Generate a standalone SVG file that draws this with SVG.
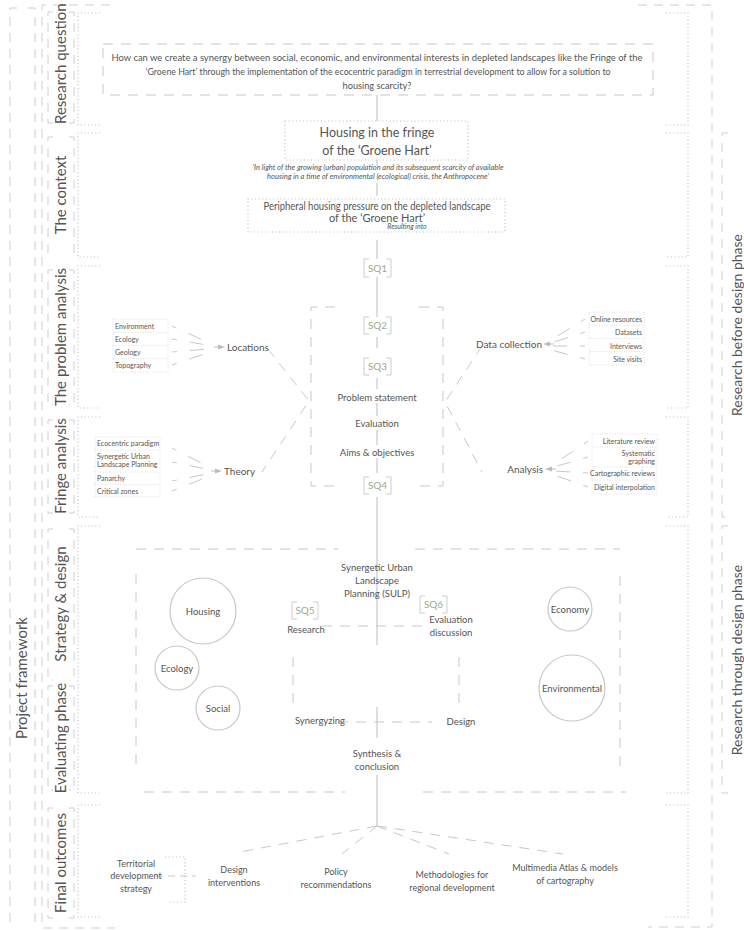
<svg xmlns="http://www.w3.org/2000/svg" width="744" height="930" viewBox="0 0 744 930">
<style>
text{font-family:Lato,"Liberation Sans",sans-serif;fill:#555}
.lbl{font-size:15px;fill:#555}
.sq{font-size:10px;fill:#9cac88;text-anchor:middle}
.n{font-size:9.5px;text-anchor:middle}
.li{font-size:7px;fill:#555}
.it{font-style:italic}
.dash{fill:none;stroke:#cfcfcf;stroke-width:1;stroke-dasharray:9 7}
.dashc{fill:none;stroke:#c8c8c8;stroke-width:1;stroke-dasharray:10 8}
.dot{fill:none;stroke:#bdbdbd;stroke-width:1.2;stroke-dasharray:1 2.6}
.dotl{fill:none;stroke:#d8d8d8;stroke-width:0.8;stroke-dasharray:1 1.5}
.solid{fill:none;stroke:#bdbdbd;stroke-width:1}
.br{fill:none;stroke:#cdcdcd;stroke-width:1}
.circ{fill:none;stroke:#c8c8c8;stroke-width:1.2}
.arr{fill:#bdbdbd}
.fan{fill:none;stroke:#c8c8c8;stroke-width:1;stroke-dasharray:5 13 14 40}
</style>

<g id="frames">
  <path class="dash" d="M17,8 H10 V922 H17 M28,8 H35 V922 H28"/>
  <text class="lbl" transform="translate(27,678) rotate(-90)" text-anchor="middle" style="font-size:15px">Project framework</text>
  <path class="dash" d="M110,5 H42 V928 H115 M638,5 H712 V927 H648"/>
  <path class="dash" d="M728,133 H722 V517 H728 M728,526 H722 V793 H728"/>
  <text class="lbl" transform="translate(742,325) rotate(-90)" text-anchor="middle" style="font-size:14px">Research before design phase</text>
  <text class="lbl" transform="translate(742,660) rotate(-90)" text-anchor="middle" style="font-size:14px">Research through design phase</text>
</g>

<g id="sec-research-question">
  <path class="dot" d="M100,13 H78 V125 H100 M666,13 H688 V125 H666"/>
  <path class="dash" d="M53,12 H48 V123 H53 M69,12 H74 V123 H69"/>
  <text class="lbl" transform="translate(66,124) rotate(-90)">Research question</text>
</g>
<g id="sec-context">
  <path class="dot" d="M100,133 H78 V257 H100 M666,133 H688 V257 H666"/>
  <path class="dash" d="M53,137 H48 V254 H53 M69,137 H74 V254 H69"/>
  <text class="lbl" transform="translate(66,195) rotate(-90)" text-anchor="middle">The context</text>
</g>
<g id="sec-problem">
  <path class="dot" d="M100,266 H78 V408 H100 M666,266 H688 V408 H666"/>
  <path class="dash" d="M53,270 H48 V405 H53 M69,270 H74 V405 H69"/>
  <text class="lbl" transform="translate(66,337) rotate(-90)" text-anchor="middle">The problem analysis</text>
</g>
<g id="sec-fringe">
  <path class="dot" d="M100,417 H78 V517 H100 M666,417 H688 V517 H666"/>
  <path class="dash" d="M53,420 H48 V513 H53 M69,420 H74 V513 H69"/>
  <text class="lbl" transform="translate(66,466) rotate(-90)" text-anchor="middle">Fringe analysis</text>
</g>
<g id="sec-strategy">
  <path class="dot" d="M100,526 H78 V793 H100 M666,526 H688 V793 H666"/>
  <path class="dash" d="M53,529 H48 V680 H53 M69,529 H74 V680 H69"/>
  <text class="lbl" transform="translate(66,604) rotate(-90)" text-anchor="middle">Strategy &amp; design</text>
</g>
<g id="sec-evaluating">
  <path class="dash" d="M53,686 H48 V790 H53 M69,686 H74 V790 H69"/>
  <text class="lbl" transform="translate(66,738) rotate(-90)" text-anchor="middle">Evaluating phase</text>
</g>
<g id="sec-final">
  <path class="dot" d="M100,805 H78 V917 H100 M666,805 H688 V917 H666"/>
  <path class="dash" d="M53,808 H48 V918 H53 M69,808 H74 V918 H69"/>
  <text class="lbl" transform="translate(66,863) rotate(-90)" text-anchor="middle">Final outcomes</text>
</g>

<g id="connectors">
  <path class="solid" d="M377,95 V121 M377,160 V166 M377,183 V196 M377,240 V259 M377,277 V317 M377,337 V348 M377,378 V389 M377,403 V416 M377,430 V445 M377,458 V473 M377,497 V645 M377,707 V738 M377,775 V826"/>
  <path class="dashc" d="M268,349 L309,401 L262,472 M482,346 L445,402 L482,472"/>
  <path class="fan" d="M172,326 L207,342 M172,339 L207,345 M172,352 L207,349 M172,365 L207,353"/>
  <path class="fan" d="M172,448 L207,466 M172,462 L207,469 M172,481 L207,474 M172,491 L207,477"/>
  <path class="fan" d="M585,319 L551,340 M585,332 L551,343 M585,346 L551,346 M585,359 L551,350"/>
  <path class="fan" d="M588,441 L554,464 M588,457 L554,467 M588,473 L554,471 M588,487 L554,475"/>
  <path class="solid" d="M214,347 H218 M211,471 H215 M550,344 H554 M552,469 H556"/>
  <polygon class="arr" points="218,344.5 225,347 218,349.5"/>
  <polygon class="arr" points="215,468.5 222,471 215,473.5"/>
  <polygon class="arr" points="550,341.5 543,344 550,346.5"/>
  <polygon class="arr" points="552,466.5 545,469 552,471.5"/>
  <path class="dashc" d="M322,626 H428 M293,657 V707 M459,657 V707 M338,722 H432"/>
  <path class="dashc" d="M377,826 L240,852 M377,826 L342,854 M377,826 L449,854 M377,826 L563,854"/>
  <path class="dashc" d="M156,876 H196" style="stroke-dasharray:7 5"/>
</g>

<g id="question">
  <rect class="dashc" x="103" y="44" width="550" height="51"/>
  <text x="377" y="61" text-anchor="middle" font-size="9" textLength="531" lengthAdjust="spacingAndGlyphs">How can we create a synergy between social, economic, and environmental interests in depleted landscapes like the Fringe of the</text>
  <text x="378" y="75" text-anchor="middle" font-size="9" textLength="465" lengthAdjust="spacingAndGlyphs">‘Groene Hart’ through the implementation of the ecocentric paradigm in terrestrial development to allow for a solution to</text>
  <text x="377" y="89" text-anchor="middle" font-size="9" textLength="69" lengthAdjust="spacingAndGlyphs">housing scarcity?</text>
</g>
<g id="housing-fringe">
  <rect class="dot" x="285" y="121" width="183" height="39"/>
  <text x="377" y="137" text-anchor="middle" font-size="12.5">Housing in the fringe</text>
  <text x="377" y="155" text-anchor="middle" font-size="12.5">of the ‘Groene Hart’</text>
</g>
<g id="context-note">
  <text class="it" x="378" y="169.5" text-anchor="middle" font-size="7.8" textLength="251" lengthAdjust="spacingAndGlyphs">‘In light of the growing (urban) population and its subsequent scarcity of available</text>
  <text class="it" x="378" y="179" text-anchor="middle" font-size="7.8" textLength="222" lengthAdjust="spacingAndGlyphs">housing in a time of environmental (ecological) crisis, the Anthropocene’</text>
</g>
<g id="peripheral">
  <rect class="dot" x="248" y="199" width="257" height="33"/>
  <text x="377" y="209.5" text-anchor="middle" font-size="11" textLength="227" lengthAdjust="spacingAndGlyphs">Peripheral housing pressure on the depleted landscape</text>
  <text x="377" y="221.5" text-anchor="middle" font-size="11">of the ‘Groene Hart’</text>
  <text class="it" x="407" y="229" text-anchor="middle" font-size="7">Resulting into</text>
</g>
<g id="sq1"><path class="br" d="M369,259 H364 V277 H369 M386,259 H391 V277 H386"/><text class="sq" x="377.5" y="271.5">SQ1</text></g>
<g id="problem-bracket"><path class="dashc" d="M335,307 H311 V486 H335 M419,307 H443 V486 H419"/></g>
<g id="sq2"><path class="br" d="M369,317 H364 V334 H369 M386,317 H391 V334 H386"/><text class="sq" x="377.5" y="329">SQ2</text></g>
<g id="sq3"><path class="br" d="M369,358 H364 V375 H369 M386,358 H391 V375 H386"/><text class="sq" x="377.5" y="370">SQ3</text></g>
<g id="problem-statement"><text class="n" x="377" y="400.5">Problem statement</text></g>
<g id="evaluation"><text class="n" x="377" y="426.5">Evaluation</text></g>
<g id="aims"><text class="n" x="377" y="455.5">Aims &amp; objectives</text></g>
<g id="sq4"><path class="br" d="M369,477 H364 V494 H369 M386,477 H391 V494 H386"/><text class="sq" x="377.5" y="489">SQ4</text></g>

<g id="locations-list">
  <rect class="dotl" x="113" y="319" width="55" height="53"/>
  <path class="dotl" d="M113,332.5 H168 M113,345.5 H168 M113,358.5 H168"/>
  <text class="li" x="115" y="329">Environment</text>
  <text class="li" x="115" y="342">Ecology</text>
  <text class="li" x="115" y="355">Geology</text>
  <text class="li" x="115" y="368">Topography</text>
</g>
<g id="locations"><text x="227" y="350.5" font-size="10">Locations</text></g>

<g id="theory-list">
  <rect class="dotl" x="95" y="437" width="65" height="60"/>
  <path class="dotl" d="M95,450 H160 M95,472 H160 M95,484.5 H160"/>
  <text class="li" x="97" y="446">Ecocentric paradigm</text>
  <text class="li" x="97" y="459">Synergetic Urban</text>
  <text class="li" x="97" y="467">Landscape Planning</text>
  <text class="li" x="97" y="481">Panarchy</text>
  <text class="li" x="97" y="493.5">Critical zones</text>
</g>
<g id="theory"><text x="224" y="474.5" font-size="10">Theory</text></g>

<g id="data-list">
  <rect class="dotl" x="589" y="312" width="55" height="53"/>
  <path class="dotl" d="M589,325.5 H644 M589,338.5 H644 M589,351.5 H644"/>
  <text class="li" x="642" y="322" text-anchor="end">Online resources</text>
  <text class="li" x="642" y="335" text-anchor="end">Datasets</text>
  <text class="li" x="642" y="348.5" text-anchor="end">Interviews</text>
  <text class="li" x="642" y="361.5" text-anchor="end">Site visits</text>
</g>
<g id="data-collection"><text x="542" y="347.5" font-size="10" text-anchor="end">Data collection</text></g>

<g id="analysis-list">
  <rect class="dotl" x="592" y="434" width="65" height="60"/>
  <path class="dotl" d="M592,447 H657 M592,467 H657 M592,480 H657"/>
  <text class="li" x="655" y="443.5" text-anchor="end">Literature review</text>
  <text class="li" x="655" y="455.5" text-anchor="end">Systematic</text>
  <text class="li" x="655" y="463.5" text-anchor="end">graphing</text>
  <text class="li" x="655" y="476" text-anchor="end">Cartographic reviews</text>
  <text class="li" x="655" y="489.5" text-anchor="end">Digital interpolation</text>
</g>
<g id="analysis"><text x="543" y="472.5" font-size="10" text-anchor="end">Analysis</text></g>

<g id="strategy-box"><path class="dashc" d="M136,549 H338 M415,549 H620 M136,574 V764 M620,576 V766 M144,792 H345 M423,792 H626"/></g>
<g id="sulp">
  <text class="n" x="377" y="571">Synergetic Urban</text>
  <text class="n" x="377" y="584">Landscape</text>
  <text class="n" x="377" y="597">Planning (SULP)</text>
</g>
<g id="sq5"><path class="br" d="M297,602 H292 V619 H297 M313,602 H318 V619 H313"/><text class="sq" x="305" y="614">SQ5</text></g>
<g id="sq6"><path class="br" d="M425,596 H420 V613 H425 M442,596 H447 V613 H442"/><text class="sq" x="433.5" y="608">SQ6</text></g>
<g id="research"><text class="n" x="306" y="633">Research</text></g>
<g id="evaluation-discussion"><text class="n" x="451" y="623">Evaluation</text><text class="n" x="451" y="636">discussion</text></g>
<g id="synergyzing"><text class="n" x="320" y="723.5">Synergyzing</text></g>
<g id="design"><text class="n" x="461" y="725">Design</text></g>
<g id="synthesis"><text class="n" x="377" y="757">Synthesis &amp;</text><text class="n" x="377" y="769.5">conclusion</text></g>

<g id="housing"><circle class="circ" cx="203" cy="611" r="33"/><text class="n" x="203" y="614.5">Housing</text></g>
<g id="ecology"><circle class="circ" cx="177" cy="668" r="22"/><text class="n" x="177" y="671.5">Ecology</text></g>
<g id="social"><circle class="circ" cx="218" cy="708" r="22"/><text class="n" x="218" y="711.5">Social</text></g>
<g id="economy"><circle class="circ" cx="570" cy="609" r="22"/><text class="n" x="570" y="612.5">Economy</text></g>
<g id="environmental"><circle class="circ" cx="572" cy="688" r="33"/><text class="n" x="572" y="691.5">Environmental</text></g>

<g id="territorial">
  <path class="dot" d="M165,857 H185 V902 H168"/>
  <text class="n" x="136" y="867" style="font-size:9px">Territorial</text>
  <text class="n" x="136" y="879" style="font-size:9px">development</text>
  <text class="n" x="136" y="892" style="font-size:9px">strategy</text>
</g>
<g id="design-interventions"><text class="n" x="234" y="873" style="font-size:9px">Design</text><text class="n" x="234" y="886" style="font-size:9px">interventions</text></g>
<g id="policy"><text class="n" x="336" y="875" style="font-size:9px">Policy</text><text class="n" x="336" y="888" style="font-size:9px">recommendations</text></g>
<g id="methodologies"><text class="n" x="452" y="878" style="font-size:9px">Methodologies for</text><text class="n" x="452" y="891" style="font-size:9px">regional development</text></g>
<g id="multimedia"><text class="n" x="565" y="871" style="font-size:9px">Multimedia Atlas &amp; models</text><text class="n" x="565" y="883.5" style="font-size:9px">of cartography</text></g>
</svg>
